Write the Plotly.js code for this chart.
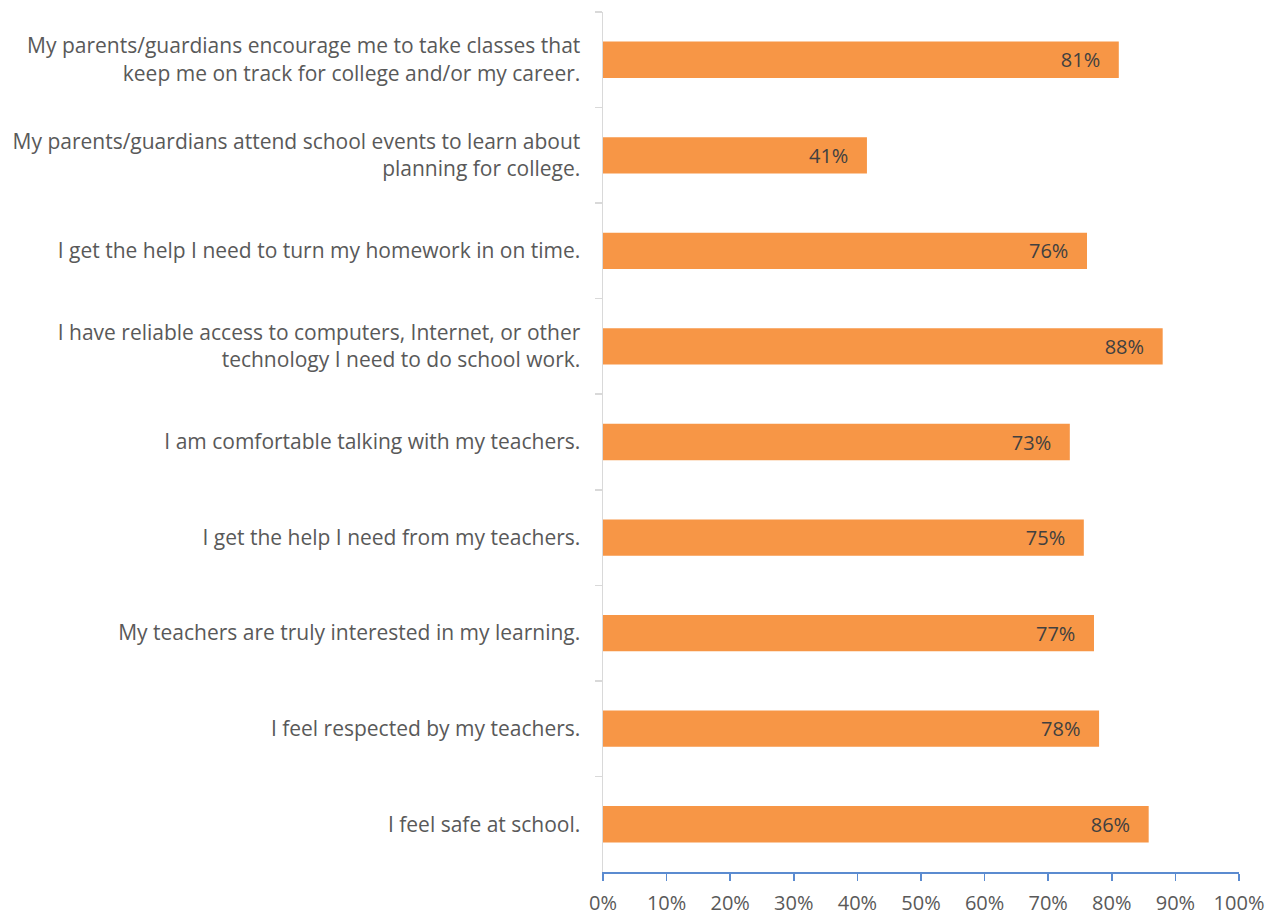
<!DOCTYPE html>
<html><head><meta charset="utf-8">
<script src="https://cdn.plot.ly/plotly-3.0.1.min.js"></script>
<style>html,body{margin:0;padding:0;background:#fff}#c{width:1276px;height:914px}</style>
</head><body><div id="c"></div>
<script>
const categories = [
  "My parents/guardians encourage me to take classes that<br>keep me on track for college and/or my career.",
  "My parents/guardians attend school events to learn about<br>planning for college.",
  "I get the help I need to turn my homework in on time.",
  "I have reliable access to computers, Internet, or other<br>technology I need to do school work.",
  "I am comfortable talking with my teachers.",
  "I get the help I need from my teachers.",
  "My teachers are truly interested in my learning.",
  "I feel respected by my teachers.",
  "I feel safe at school."
];
const values = [0.811, 0.415, 0.761, 0.880, 0.734, 0.756, 0.772, 0.780, 0.858];
const labels = ["81%", "41%", "76%", "88%", "73%", "75%", "77%", "78%", "86%"];
const xTicks = [0,0.1,0.2,0.3,0.4,0.5,0.6,0.7,0.8,0.9,1.0];
const xTickText = ["0%","10%","20%","30%","40%","50%","60%","70%","80%","90%","100%"];

const font = "'Open Sans', sans-serif";
Plotly.newPlot('c', [{
  type: 'bar', orientation: 'h',
  y: categories, x: values,
  text: labels.map(t => t + '\u00a0\u00a0\u00a0'), textposition: 'inside', insidetextanchor: 'end',
  textfont: {family: font, size: 20, color: '#404040'},
  marker: {color: '#F79646'},
  hoverinfo: 'none', cliponaxis: false
}], {
  width: 1276, height: 914,
  margin: {l: 603, r: 37, t: 12, b: 42},
  paper_bgcolor: '#fff', plot_bgcolor: '#fff',
  bargap: 0.62, showlegend: false,
  font: {family: font, color: '#595959', size: 20},
  xaxis: {range: [0, 1], tickvals: xTicks, ticktext: xTickText, showgrid: false, zeroline: false,
    showline: true, linecolor: '#5B8BD0', linewidth: 1.5, ticks: 'outside', ticklen: 7, tickcolor: '#5B8BD0', tickwidth: 1.5,
    ticklabelstandoff: 5,
    tickfont: {family: font, size: 20, color: '#595959'}, fixedrange: true},
  yaxis: {autorange: 'reversed', type: 'category', showgrid: false, zeroline: false,
    showline: true, linecolor: '#D9D9D9', linewidth: 1.5, ticks: 'outside', tickson: 'boundaries', ticklen: 7, tickcolor: '#D9D9D9', tickwidth: 1.5,
    ticklabelstandoff: 17,
    tickfont: {family: font, size: 21, color: '#595959'}, fixedrange: true}
}, {staticPlot: true});
</script></body></html>
